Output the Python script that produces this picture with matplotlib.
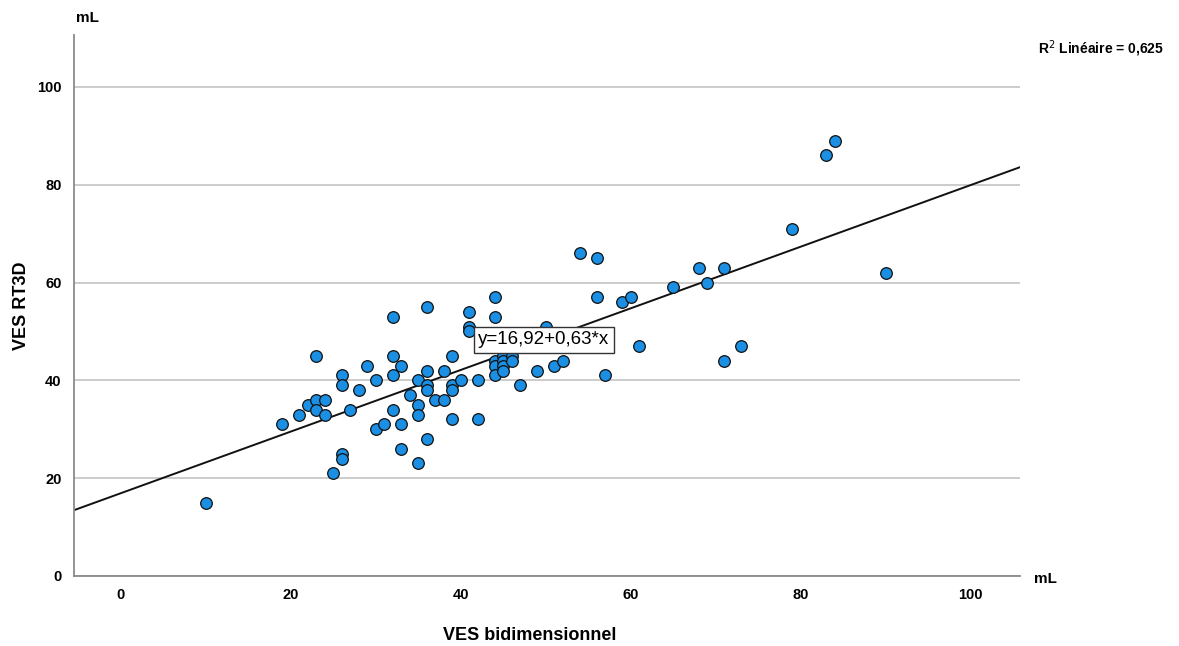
import numpy as np
import matplotlib
matplotlib.use('Agg')
import matplotlib.pyplot as plt

plt.rcParams['font.family'] = ['Liberation Sans', 'DejaVu Sans']

# VES bidimensionnel (x) vs VES RT3D (y), mL
ves_2d = [10, 19, 21, 22, 23, 23, 23, 24, 24, 25, 26, 26, 26, 26, 27, 28, 29,
          30, 30, 31, 32, 32, 32, 32, 33, 33, 33, 34, 35, 35, 35, 35, 36, 36,
          36, 36, 36, 37, 38, 38, 39, 39, 39, 39, 40, 41, 41, 41, 42, 42, 44,
          44, 44, 44, 44, 45, 45, 45, 45, 45, 46, 46, 47, 49, 50, 51, 52, 54,
          56, 56, 57, 59, 60, 61, 65, 68, 69, 71, 71, 73, 79, 83, 84, 90]
ves_rt3d = [15, 31, 33, 35, 36, 34, 45, 36, 33, 21, 25, 24, 41, 39, 34, 38, 43,
            40, 30, 31, 53, 45, 41, 34, 43, 31, 26, 37, 40, 35, 33, 23, 55, 42,
            39, 38, 28, 36, 42, 36, 45, 39, 38, 32, 40, 54, 51, 50, 40, 32, 57,
            53, 44, 43, 41, 46, 45, 44, 43, 42, 45, 44, 39, 42, 51, 43, 44, 66,
            65, 57, 41, 56, 57, 47, 59, 63, 60, 63, 44, 47, 71, 86, 89, 62]

intercept, slope = 16.92, 0.63
r2 = 0.625
x_ticks = [0, 20, 40, 60, 80, 100]
y_ticks = [0, 20, 40, 60, 80, 100]

fig = plt.figure(figsize=(11.79, 6.46), dpi=100)
ax = fig.add_axes([0.0628, 0.1084, 0.8023, 0.8374])
xlim = (-5.5, 105.8)
ax.set_xlim(*xlim)
ax.set_ylim(0, 110.6)

ax.grid(axis='y', color='#c8c8c8', lw=1.3)
ax.set_axisbelow(True)
for s in ['top', 'right']:
    ax.spines[s].set_visible(False)
for s in ['left', 'bottom']:
    ax.spines[s].set_color('#8a8a8a')
    ax.spines[s].set_linewidth(1.3)

xl = np.array(xlim)
ax.plot(xl, intercept + slope * xl, color='#111111', lw=1.4, zorder=2)
ax.scatter(ves_2d, ves_rt3d, s=70, color='#1a8fe3', edgecolors='#111111',
           linewidths=0.9, zorder=3)

ax.text(49.8, 48.3, 'y=16,92+0,63*x', fontsize=13.5, ha='center', va='center',
        zorder=4, bbox=dict(boxstyle='square,pad=0.25', fc='white', ec='#333333', lw=1))

ax.set_xticks(x_ticks)
ax.set_yticks(y_ticks)
ax.tick_params(length=0, pad=9, labelsize=10.5)
for lab in ax.get_xticklabels() + ax.get_yticklabels():
    lab.set_fontweight('bold')

fig.text(530 / 1179, 1 - 635 / 646, 'VES bidimensionnel', fontsize=13,
         fontweight='bold', ha='center', va='center')
fig.text(22 / 1179, 1 - 306 / 646, 'VES RT3D', fontsize=13, fontweight='bold',
         ha='center', va='center', rotation=90)

fig.text(87 / 1179, 1 - 18 / 646, 'mL', fontsize=11, fontweight='bold',
         ha='center', va='center')
fig.text(1045 / 1179, 1 - 579 / 646, 'mL', fontsize=11, fontweight='bold',
         ha='center', va='center')
fig.text(1101 / 1179, 1 - 49 / 646, 'R$^2$ Linéaire = 0,625', fontsize=10,
         fontweight='bold', ha='center', va='center')

fig.savefig('out.png', dpi=100)
